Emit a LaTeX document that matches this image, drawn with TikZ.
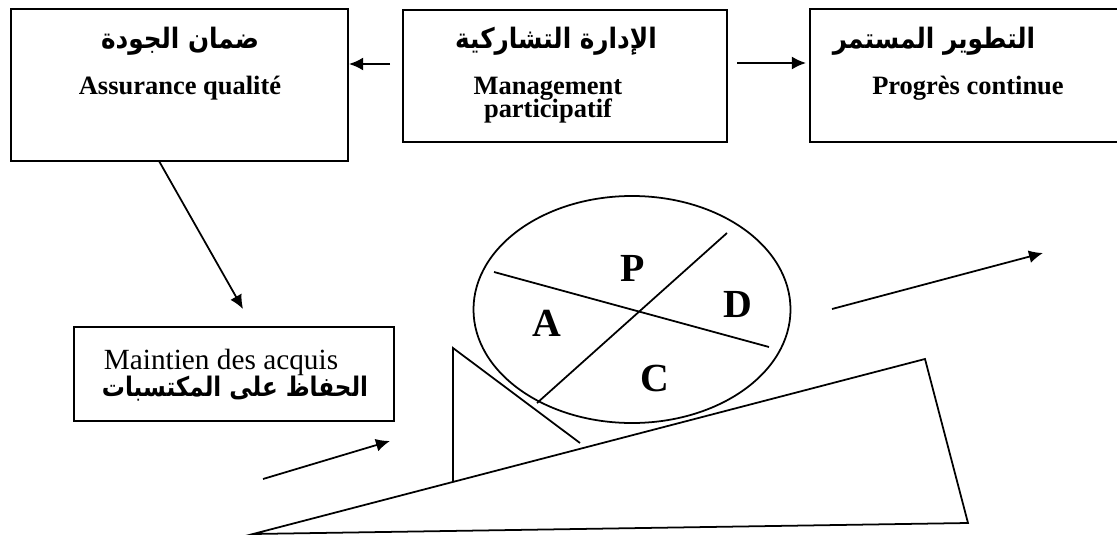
\documentclass[tikz,border=0pt]{standalone}
\usepackage{fontspec}
\usepackage{graphicx}
\setmainfont{Liberation Serif}
\newfontfamily\arabicfont[Script=Arabic]{DejaVu Sans}
\TeXXeTstate=1
\usetikzlibrary{arrows.meta,shapes.geometric,fit}
\begin{document}
\begin{tikzpicture}[x=0.03cm,y=-0.03cm,
  line width=1.5pt,
  box/.style={draw,rectangle,inner sep=0pt},
  arlabel/.style={font=\arabicfont\bfseries\fontsize{24}{26}\selectfont,inner sep=0pt},
  frlabel/.style={font=\bfseries\fontsize{22.6}{25}\selectfont,inner sep=0pt,anchor=base},
  letter/.style={font=\bfseries\fontsize{34}{38}\selectfont,inner sep=0pt},
  arr/.style={-{Latex[length=12pt,width=11pt]}}]
\useasboundingbox (0,0) rectangle (1117,535);
\clip (0,0) rectangle (1117,535);

% the three top boxes
\coordinate (aqA) at (11,9);     \coordinate (aqB) at (348,161);
\coordinate (mpA) at (403,10);   \coordinate (mpB) at (727,142);
\coordinate (pcA) at (810,9);    \coordinate (pcB) at (1140,142);
\node[box,fit=(aqA)(aqB)] (aq) {};
\node[box,fit=(mpA)(mpB)] (mp) {};
\node[box,fit=(pcA)(pcB)] (pc) {};

\node[arlabel] (aqar) at (180,41) {\scalebox{0.88}[1]{\beginR ضمان الجودة\endR}};
\node[frlabel] (aqfr) at (180,95) {Assurance qualité};

\node[arlabel] (mpar) at (556,41) {\scalebox{0.88}[1]{\beginR الإدارة التشاركية\endR}};
\node[frlabel] (mpfr1) at (548,94) {Management};
\node[frlabel] (mpfr2) at (548,118) {participatif};

\node[arlabel] (pcar) at (934,41) {\scalebox{0.88}[1]{\beginR التطوير المستمر\endR}};
\node[frlabel] (pcfr) at (968,95) {Progrès continue};

% box of the acquired gains
\coordinate (maA) at (74,327);   \coordinate (maB) at (394,421);
\node[box,fit=(maA)(maB)] (ma) {};
\node[font=\fontsize{25}{28}\selectfont,inner sep=0pt,anchor=base] (mafr) at (221,369) {Maintien des acquis};
\node[arlabel,font=\arabicfont\bfseries\fontsize{23}{26}\selectfont] (maar) at (235,389) {\scalebox{0.855}[1]{\beginR الحفاظ على المكتسبات\endR}};

% arrows between the boxes
\coordinate (l1) at (390,64);  \coordinate (l2) at (349,64);
\coordinate (r1) at (737,63);  \coordinate (r2) at (806,63);
\coordinate (d1) at (159,161); \coordinate (d2) at (243,309);
\draw[arr] (l1) -- (l2);
\draw[arr] (r1) -- (r2);
\draw[arr] (d1) -- (d2);

% PDCA wheel
\node[draw,ellipse,inner sep=0pt,minimum width=9.51cm,minimum height=6.81cm] (wheel) at (632,309.5) {};
\coordinate (w1) at (494,272); \coordinate (w2) at (769,347);
\coordinate (w3) at (537,403); \coordinate (w4) at (727,233);
\draw (w1) -- (w2);
\draw (w3) -- (w4);
\node[letter] (P) at (633,268.5) {P};
\node[letter] (D) at (738,304.5) {D};
\node[letter] (A) at (547,323) {A};
\node[letter] (C) at (654.5,378.5) {C};

% wedge holding the wheel
\coordinate (s1) at (453,348); \coordinate (s2) at (453,481); \coordinate (s3) at (580,443);
\draw (s2) -- (s1) -- (s3);

% slope
\coordinate (t1) at (253,534); \coordinate (t2) at (925,359); \coordinate (t3) at (968,523);
\draw (t1) -- (t2) -- (t3) -- cycle;

% upward arrows
\coordinate (u1) at (263,479);  \coordinate (u2) at (390,441);
\coordinate (v1) at (832,309);  \coordinate (v2) at (1043,253);
\draw[arr] (u1) -- (u2);
\draw[arr] (v1) -- (v2);
\end{tikzpicture}
\end{document}
